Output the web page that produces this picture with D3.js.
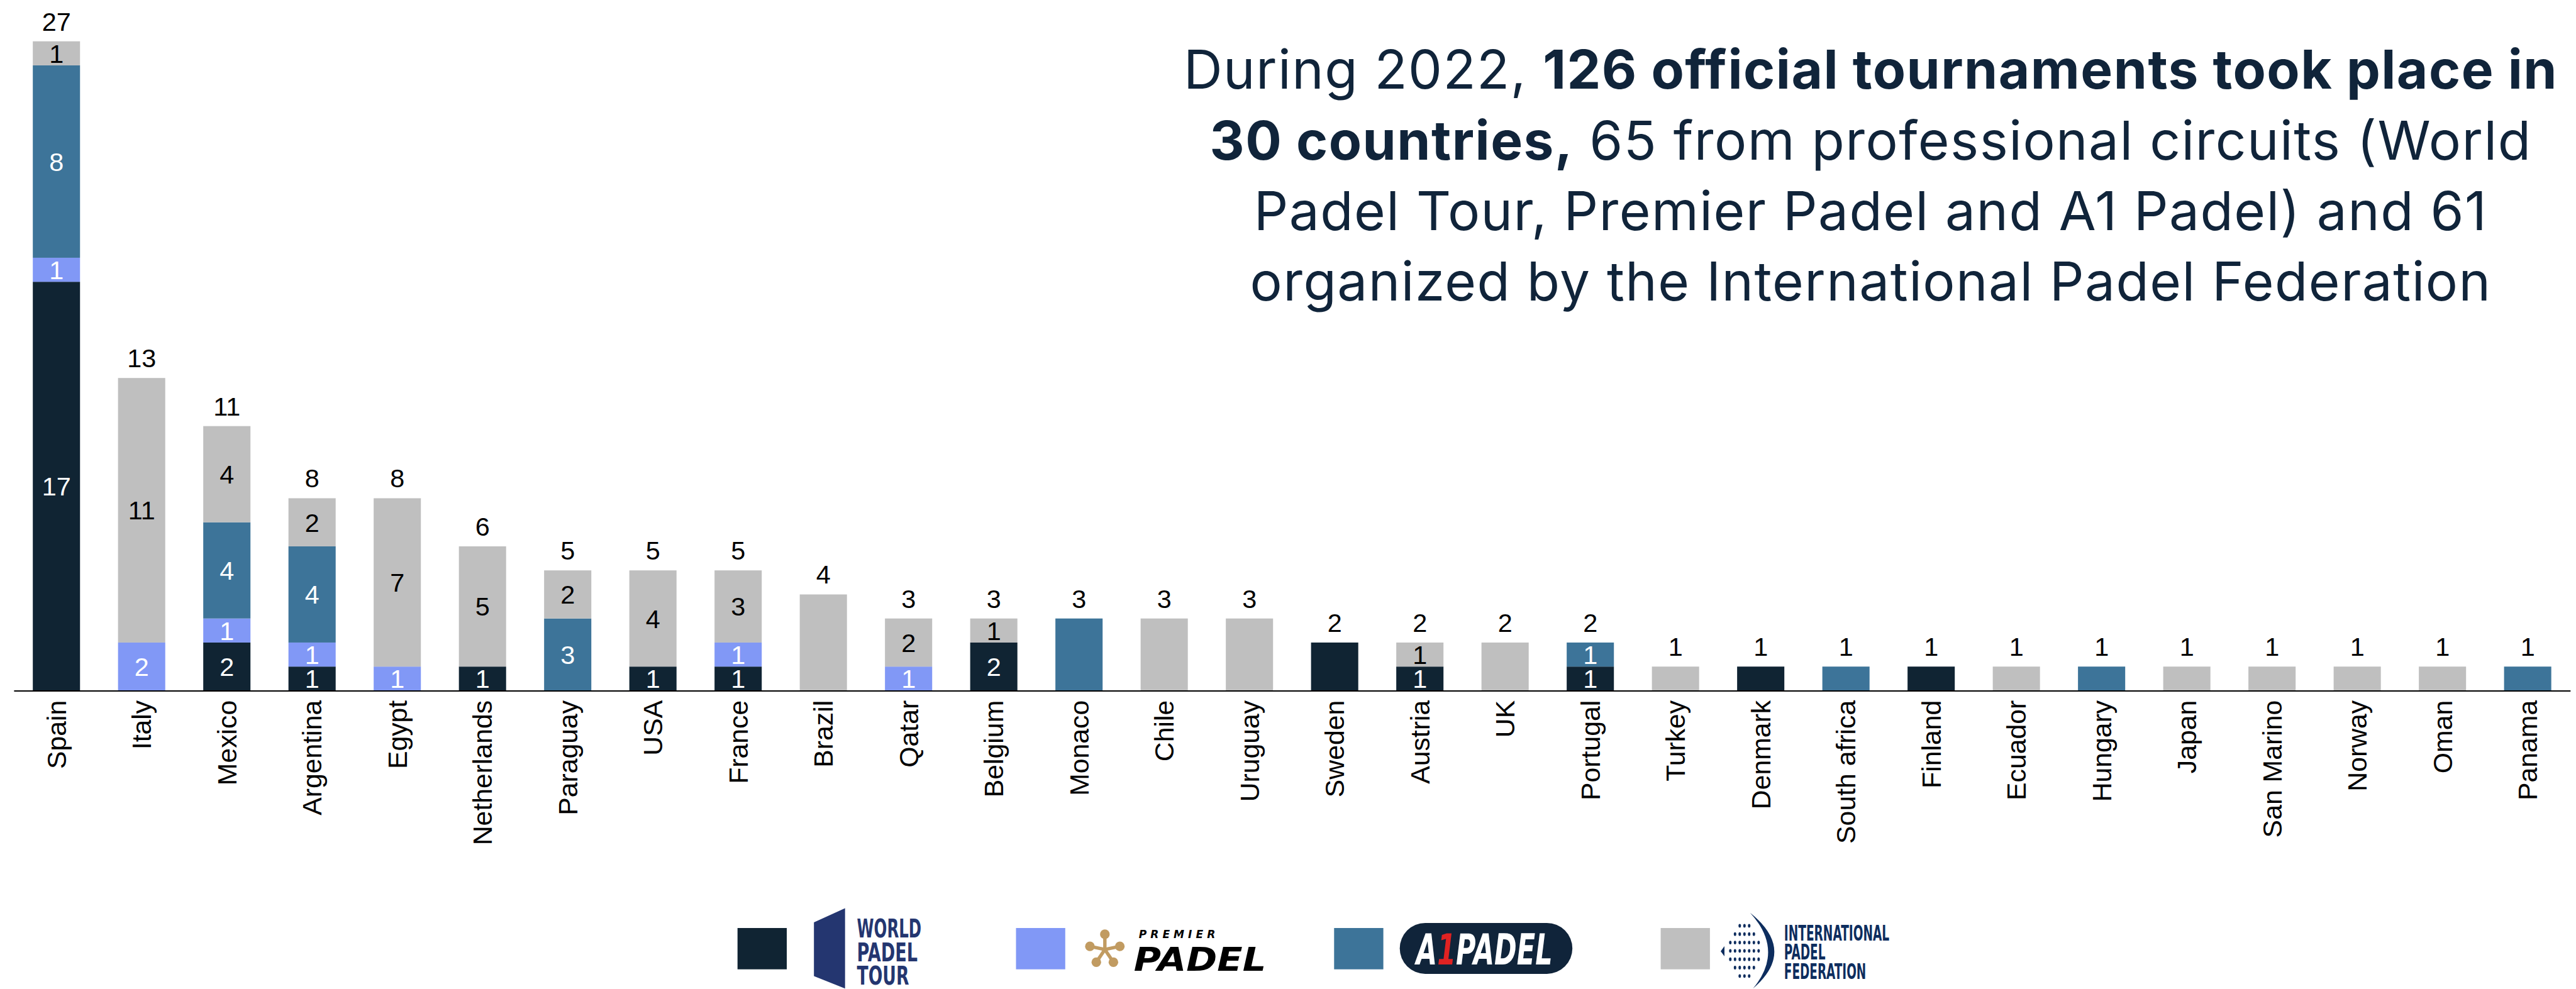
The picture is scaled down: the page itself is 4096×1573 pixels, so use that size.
<!DOCTYPE html>
<html>
<head>
<meta charset="utf-8">
<script src="https://cdn.jsdelivr.net/npm/d3@7"></script>
<style>
  html, body { margin: 0; padding: 0; background: #fff; }
  svg { display: block; }
</style>
</head>
<body>
<div id="chart"></div>
<script>
// tournaments per country in 2022, by circuit (bottom to top of each bar)
var countries = ["Spain", "Italy", "Mexico", "Argentina", "Egypt", "Netherlands", "Paraguay", "USA", "France", "Brazil",
  "Qatar", "Belgium", "Monaco", "Chile", "Uruguay", "Sweden", "Austria", "UK", "Portugal", "Turkey",
  "Denmark", "South africa", "Finland", "Ecuador", "Hungary", "Japan", "San Marino", "Norway", "Oman", "Panama"];
var worldPadelTour = [17, 0, 2, 1, 0, 1, 0, 1, 1, 0, 0, 2, 0, 0, 0, 2, 1, 0, 1, 0, 1, 0, 1, 0, 0, 0, 0, 0, 0, 0];
var premierPadel   = [1, 2, 1, 1, 1, 0, 0, 0, 1, 0, 1, 0, 0, 0, 0, 0, 0, 0, 0, 0, 0, 0, 0, 0, 0, 0, 0, 0, 0, 0];
var a1Padel        = [8, 0, 4, 4, 0, 0, 3, 0, 0, 0, 0, 0, 3, 0, 0, 0, 0, 0, 1, 0, 0, 1, 0, 0, 1, 0, 0, 0, 0, 1];
var ipfTournaments = [1, 11, 4, 2, 7, 5, 2, 4, 3, 4, 2, 1, 0, 3, 3, 0, 1, 2, 0, 1, 0, 0, 0, 1, 0, 1, 1, 1, 1, 0];

var seriesKeys = ["wpt", "premier", "a1", "ipf"];
var seriesColors = { wpt: "#102433", premier: "#8198f6", a1: "#3d7499", ipf: "#bfbfbf" };
var labelColors = { wpt: "#fff", premier: "#fff", a1: "#fff", ipf: "#000" };

var titleLines = [
  [["During 2022, ", 400], ["126 official tournaments took place in", 700]],
  [["30 countries,", 700], [" 65 from professional circuits (World", 400]],
  [["Padel Tour, Premier Padel and A1 Padel) and 61", 400]],
  [["organized by the International Padel Federation", 400]]
];

var W = 4096, H = 1573, k = 0.9;   // drawn at 0.9 of the 4548x1747 original
var numFont = "'Liberation Sans', Arial, sans-serif";

var rows = countries.map(function(c, i) {
  return { country: c, wpt: worldPadelTour[i], premier: premierPadel[i], a1: a1Padel[i], ipf: ipfTournaments[i] };
});

var svg = d3.select("#chart").append("svg")
  .attr("width", W)
  .attr("height", H);

var g = svg.append("g").attr("transform", "scale(" + k + ")");

var x = d3.scaleBand()
  .domain(countries)
  .range([24.4, 4541])
  .paddingInner(0.446)
  .paddingOuter(0.223);

var y = d3.scaleLinear()
  .domain([0, 27])
  .range([1220.5, 73]);

var stacked = d3.stack().keys(seriesKeys)(rows);

// bars
var layers = g.append("g").selectAll("g")
  .data(stacked)
  .enter().append("g")
  .attr("fill", function(d) { return seriesColors[d.key]; });

layers.selectAll("rect")
  .data(function(d) { return d.filter(function(s) { return s[1] > s[0]; }); })
  .enter().append("rect")
  .attr("x", function(d) { return x(d.data.country); })
  .attr("y", function(d) { return y(d[1]); })
  .attr("width", x.bandwidth())
  .attr("height", function(d) { return y(d[0]) - y(d[1]); });

// segment labels, only where a bar has more than one circuit
function segCount(r) {
  return seriesKeys.filter(function(key) { return r[key] > 0; }).length;
}

layers.selectAll("text")
  .data(function(d) {
    return d.filter(function(s) { return s[1] > s[0] && segCount(s.data) > 1; })
      .map(function(s) { s.key = d.key; return s; });
  })
  .enter().append("text")
  .attr("x", function(d) { return x(d.data.country) + x.bandwidth() / 2; })
  .attr("y", function(d) { return (y(d[0]) + y(d[1])) / 2; })
  .attr("dy", "0.36em")
  .attr("text-anchor", "middle")
  .attr("fill", function(d) { return labelColors[d.key]; })
  .style("font-family", numFont)
  .style("font-size", "46px")
  .text(function(d) { return d[1] - d[0]; });

// totals
g.append("g").selectAll("text")
  .data(rows)
  .enter().append("text")
  .attr("x", function(d) { return x(d.country) + x.bandwidth() / 2; })
  .attr("y", function(d) { return y(d.wpt + d.premier + d.a1 + d.ipf) - 19; })
  .attr("text-anchor", "middle")
  .attr("fill", "#000")
  .style("font-family", numFont)
  .style("font-size", "46px")
  .text(function(d) { return d.wpt + d.premier + d.a1 + d.ipf; });

// x axis
var xAxis = g.append("g")
  .attr("transform", "translate(0," + y(0) + ")")
  .call(d3.axisBottom(x).tickSize(0).tickPadding(0));

xAxis.select(".domain")
  .attr("stroke", "#000")
  .attr("stroke-width", 2.2);

xAxis.selectAll(".tick text")
  .attr("transform", "translate(0,17) rotate(-90)")
  .attr("x", 0)
  .attr("y", 0)
  .attr("dy", "0.35em")
  .attr("text-anchor", "end")
  .attr("fill", "#000")
  .style("font-family", numFont)
  .style("font-size", "47.5px");

// headline
var title = g.append("text")
  .attr("text-anchor", "middle")
  .attr("fill", "#10243a")
  .style("font-family", "Inter, 'Open Sans', sans-serif")
  .style("font-size", "95px")
  .style("letter-spacing", "1.6px");

titleLines.forEach(function(line, i) {
  line.forEach(function(part, j) {
    var t = title.append("tspan")
      .attr("font-weight", part[1])
      .text(part[0]);
    if (j === 0) t.attr("x", 3305).attr("y", 157 + i * 124.7);
  });
});

// legend
var legend = g.append("g");
var legendX = { wpt: 1303, premier: 1795, a1: 2357, ipf: 2934 };

legend.selectAll("rect")
  .data(seriesKeys)
  .enter().append("rect")
  .attr("x", function(d) { return legendX[d]; })
  .attr("y", 1640)
  .attr("width", 87)
  .attr("height", 73)
  .attr("fill", function(d) { return seriesColors[d]; });

// World Padel Tour mark
var wpt = legend.append("g").attr("fill", "#243670");
wpt.append("path").attr("d", "M1438,1630 L1493,1605 L1493,1747 L1438,1725 Z");
[["WORLD", 1657, 114], ["PADEL", 1699, 107], ["TOUR", 1740, 92]].forEach(function(r) {
  wpt.append("text")
    .attr("x", 1514).attr("y", r[1])
    .attr("textLength", r[2]).attr("lengthAdjust", "spacingAndGlyphs")
    .style("font-family", "'DejaVu Sans Condensed', 'DejaVu Sans', sans-serif")
    .style("font-weight", 700)
    .style("font-size", "46px")
    .text(r[0]);
});

// Premier Padel mark
var pp = legend.append("g");
var cx = 1952, cy = 1678;
[-90, -12, 56, 124, 192].forEach(function(a) {
  var r = a * Math.PI / 180;
  pp.append("line")
    .attr("x1", cx).attr("y1", cy)
    .attr("x2", cx + Math.cos(r) * 26).attr("y2", cy + Math.sin(r) * 26)
    .attr("stroke", "#c19b61").attr("stroke-width", 6);
  pp.append("circle")
    .attr("cx", cx + Math.cos(r) * 27).attr("cy", cy + Math.sin(r) * 27)
    .attr("r", 8.5).attr("fill", "#c19b61");
});
pp.append("text")
  .attr("x", 2012).attr("y", 1658)
  .attr("textLength", 135).attr("lengthAdjust", "spacing")
  .style("font-family", "'DejaVu Sans', sans-serif")
  .style("font-weight", 700).style("font-style", "italic")
  .style("font-size", "19px")
  .text("PREMIER");
pp.append("text")
  .attr("x", 2003).attr("y", 1715)
  .attr("textLength", 234).attr("lengthAdjust", "spacingAndGlyphs")
  .style("font-family", "'DejaVu Sans', sans-serif")
  .style("font-weight", 700).style("font-style", "italic")
  .style("font-size", "58px")
  .text("PADEL");

// A1 Padel mark
var a1 = legend.append("g");
a1.append("rect")
  .attr("x", 2473).attr("y", 1631).attr("width", 305).attr("height", 90).attr("rx", 45)
  .attr("fill", "#10243a");
var a1Text = a1.append("text")
  .attr("x", 2502).attr("y", 1704)
  .attr("textLength", 241).attr("lengthAdjust", "spacingAndGlyphs")
  .attr("fill", "#fff")
  .style("font-family", "'DejaVu Sans', sans-serif")
  .style("font-weight", 700).style("font-style", "italic")
  .style("font-size", "75px");
a1Text.append("tspan").text("A");
a1Text.append("tspan").attr("fill", "#e02222").text("1");
a1Text.append("tspan").text("PADEL");

// International Padel Federation mark
var ipf = legend.append("g").attr("fill", "#0d2d5e");
var dotRows = [3, 5, 7, 7, 7, 5, 3];
dotRows.forEach(function(n, i) {
  for (var j = 0; j < n; j++) {
    ipf.append("ellipse")
      .attr("cx", 3082 + (j - (n - 1) / 2) * 8.33)
      .attr("cy", 1636 + i * 14.8)
      .attr("rx", 2.2).attr("ry", 3.2);
  }
});
ipf.append("path").attr("d", "M3040,1681 L3046.7,1672 L3046.7,1690 Z");
ipf.append("path").attr("d", "M3092,1613 Q3175,1680 3097,1747 Q3153,1680 3092,1613 Z");
[["INTERNATIONAL", 1662, 186], ["PADEL", 1696, 73], ["FEDERATION", 1730, 145]].forEach(function(r) {
  ipf.append("text")
    .attr("x", 3152).attr("y", r[1])
    .attr("textLength", r[2]).attr("lengthAdjust", "spacingAndGlyphs")
    .style("font-family", "'DejaVu Sans Condensed', 'DejaVu Sans', sans-serif")
    .style("font-weight", 700)
    .style("font-size", "37px")
    .text(r[0]);
});
</script>
</body>
</html>
